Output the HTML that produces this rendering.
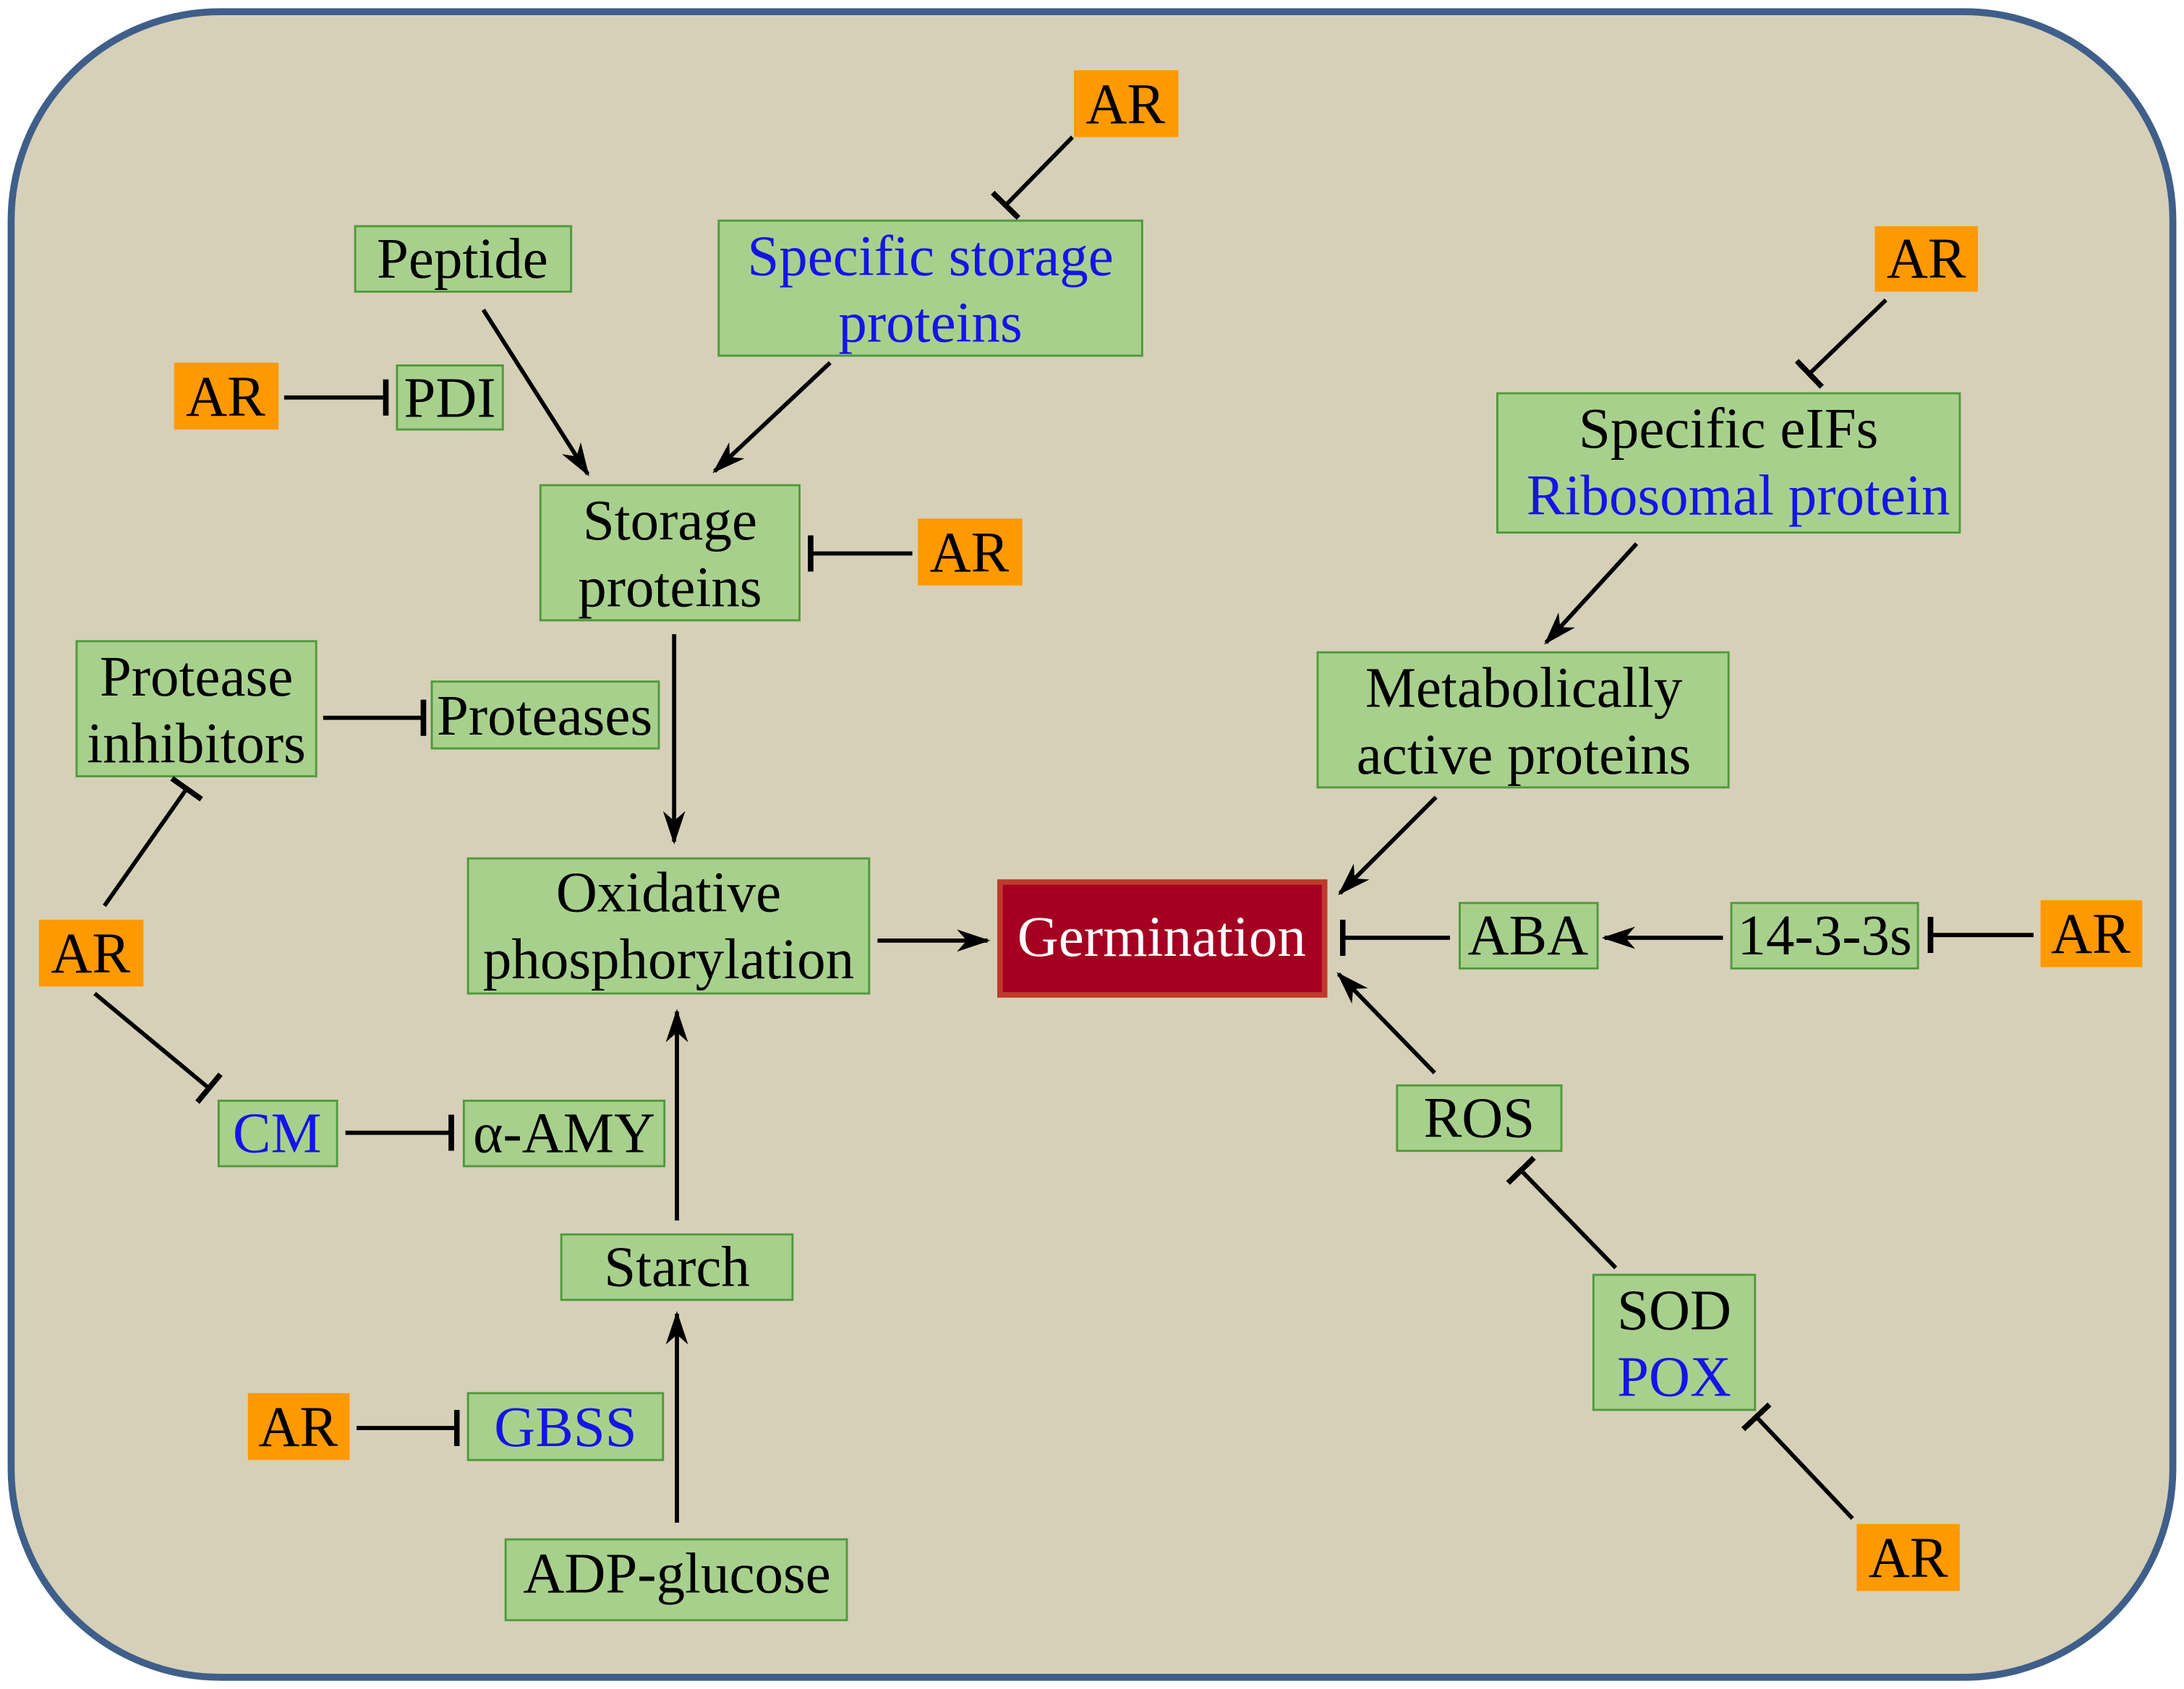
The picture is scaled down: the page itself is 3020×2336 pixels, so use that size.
<!DOCTYPE html>
<html><head><meta charset="utf-8"><style>
html,body{margin:0;padding:0;background:#fff;}
svg{display:block;}
text{font-family:"Liberation Serif",serif;font-size:41px;text-anchor:middle;}
.g{fill:#a8d08d;stroke:#4f9a3c;stroke-width:1.5;}
.o{fill:#ff9900;}
.b{fill:#1414e6;}
.l{stroke:#000;stroke-width:3;fill:none;}
</style></head><body>
<svg width="3020" height="2336" viewBox="0 0 1568 1212" xmlns="http://www.w3.org/2000/svg">
<defs><marker id="a" viewBox="0 0 24 16" refX="22" refY="8" markerWidth="24" markerHeight="16" markerUnits="userSpaceOnUse" orient="auto"><path d="M0,0 L24,8 L0,16 L7,8 Z" fill="#000"/></marker>
<marker id="t" viewBox="0 0 4 26" refX="2" refY="13" markerWidth="4" markerHeight="26" markerUnits="userSpaceOnUse" orient="auto"><rect x="0" y="0" width="4" height="26" fill="#000"/></marker></defs>
<rect x="8" y="8" width="1552" height="1196" rx="150" ry="150" fill="#d6d0b8" stroke="#3f5f8a" stroke-width="5"/>

<!-- AR boxes -->
<rect class="o" x="771" y="50" width="75" height="48"/><text x="808" y="88">AR</text>
<rect class="o" x="125" y="260" width="75" height="48"/><text x="162" y="298">AR</text>
<rect class="o" x="659" y="372" width="75" height="48"/><text x="696" y="410">AR</text>
<rect class="o" x="28" y="660" width="75" height="48"/><text x="65" y="698">AR</text>
<rect class="o" x="178" y="1000" width="73" height="48"/><text x="214" y="1038">AR</text>
<rect class="o" x="1346" y="162" width="74" height="47"/><text x="1383" y="199">AR</text>
<rect class="o" x="1465" y="646" width="73" height="48"/><text x="1501" y="684">AR</text>
<rect class="o" x="1333" y="1094" width="74" height="48"/><text x="1370" y="1132">AR</text>

<!-- green boxes -->
<rect class="g" x="516" y="158" width="304" height="97"/><text class="b" x="668" y="197">Specific storage</text><text class="b" x="668" y="245">proteins</text>
<rect class="g" x="255" y="162" width="155" height="47"/><text x="332" y="199">Peptide</text>
<rect class="g" x="285" y="262" width="76" height="46"/><text x="323" y="299">PDI</text>
<rect class="g" x="388" y="348" width="186" height="97"/><text x="481" y="387">Storage</text><text x="481" y="435">proteins</text>
<rect class="g" x="55" y="460" width="172" height="97"/><text x="141" y="499">Protease</text><text x="141" y="547">inhibitors</text>
<rect class="g" x="310" y="489" width="163" height="48"/><text x="391" y="527">Proteases</text>
<rect class="g" x="336" y="616" width="288" height="97"/><text x="480" y="654">Oxidative</text><text x="480" y="702">phosphorylation</text>
<rect class="g" x="157" y="790" width="85" height="47"/><text class="b" x="199" y="827">CM</text>
<rect class="g" x="333" y="790" width="144" height="47"/><text x="405" y="827">α-AMY</text>
<rect class="g" x="403" y="886" width="166" height="47"/><text x="486" y="923">Starch</text>
<rect class="g" x="336" y="1000" width="140" height="48"/><text class="b" x="406" y="1038">GBSS</text>
<rect class="g" x="363" y="1105" width="245" height="58"/><text x="486" y="1143">ADP-glucose</text>
<rect class="g" x="1075" y="282" width="332" height="100"/><text x="1241" y="321">Specific eIFs</text><text class="b" x="1248" y="369">Ribosomal protein</text>
<rect class="g" x="946" y="468" width="295" height="97"/><text x="1094" y="507">Metabolically</text><text x="1094" y="555">active proteins</text>
<rect class="g" x="1048" y="648" width="99" height="47"/><text x="1097" y="685">ABA</text>
<rect class="g" x="1243" y="648" width="134" height="47"/><text x="1310" y="685">14-3-3s</text>
<rect class="g" x="1003" y="779" width="118" height="47"/><text x="1062" y="816">ROS</text>
<rect class="g" x="1144" y="915" width="116" height="97"/><text x="1202" y="954">SOD</text><text class="b" x="1202" y="1002">POX</text>
<rect x="718" y="633" width="233" height="81" fill="#a50021" stroke="#c0392b" stroke-width="4"/><text x="834" y="686" fill="#fff">Germination</text>

<!-- connectors -->
<line class="l" x1="770" y1="98" x2="722" y2="147" marker-end="url(#t)"/>
<line class="l" x1="347" y1="222" x2="422" y2="340" marker-end="url(#a)"/>
<line class="l" x1="596" y1="260" x2="513" y2="338" marker-end="url(#a)"/>
<line class="l" x1="204" y1="285" x2="277" y2="285" marker-end="url(#t)"/>
<line class="l" x1="655" y1="397" x2="582" y2="397" marker-end="url(#t)"/>
<line class="l" x1="484" y1="455" x2="484" y2="604" marker-end="url(#a)"/>
<line class="l" x1="232" y1="515" x2="304" y2="515" marker-end="url(#t)"/>
<line class="l" x1="75" y1="650" x2="134" y2="566" marker-end="url(#t)"/>
<line class="l" x1="68" y1="713" x2="150" y2="781" marker-end="url(#t)"/>
<line class="l" x1="248" y1="813" x2="324" y2="813" marker-end="url(#t)"/>
<line class="l" x1="486" y1="876" x2="486" y2="726" marker-end="url(#a)"/>
<line class="l" x1="486" y1="1093" x2="486" y2="943" marker-end="url(#a)"/>
<line class="l" x1="256" y1="1025" x2="328" y2="1025" marker-end="url(#t)"/>
<line class="l" x1="630" y1="675" x2="709" y2="675" marker-end="url(#a)"/>
<line class="l" x1="1354" y1="215" x2="1299" y2="268" marker-end="url(#t)"/>
<line class="l" x1="1175" y1="390" x2="1110" y2="461" marker-end="url(#a)"/>
<line class="l" x1="1031" y1="572" x2="962" y2="641" marker-end="url(#a)"/>
<line class="l" x1="1041" y1="673" x2="964" y2="673" marker-end="url(#t)"/>
<line class="l" x1="1237" y1="673" x2="1152" y2="673" marker-end="url(#a)"/>
<line class="l" x1="1460" y1="671" x2="1386" y2="671" marker-end="url(#t)"/>
<line class="l" x1="1030" y1="770" x2="961" y2="699" marker-end="url(#a)"/>
<line class="l" x1="1160" y1="910" x2="1092" y2="840" marker-end="url(#t)"/>
<line class="l" x1="1330" y1="1090" x2="1261" y2="1017" marker-end="url(#t)"/>
</svg>
</body></html>
